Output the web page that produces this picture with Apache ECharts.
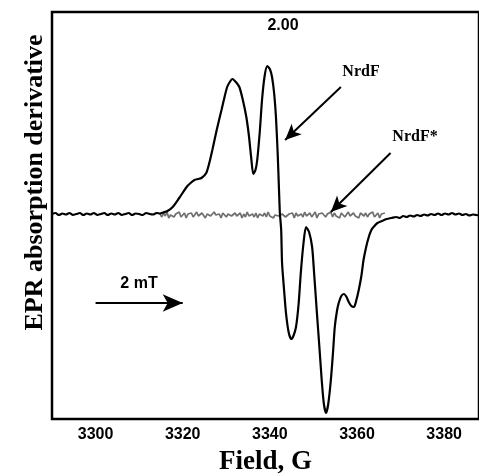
<!DOCTYPE html>
<html>
<head>
<meta charset="utf-8">
<script src="https://cdn.jsdelivr.net/npm/echarts@6/dist/echarts.min.js"></script>
<style>html,body{margin:0;padding:0;background:#fff}#c{width:479px;height:475px}</style>
</head>
<body>
<div id="c"></div>
<script>
// ---- Data ----
const xTickLabels = [3300, 3320, 3340, 3360, 3380];

// NrdF spectrum: field (G) and derivative signal (arb. units)
const nrdfField = [
  3290,3290.8,3291.6,3292.4,3293.2,3294,3294.8,3295.6,3296.4,3297.2,3298,3298.8,3299.6,3300.4,3301.2,3302,3302.8,3303.6,3304.4,3305.2,3306,3306.8,3307.6,3308.4,3309.2,3310,3310.8,3311.6,3312.4,3313.2,3314,3314.8,3315.5,
  3316.5,3317.7,3319.2,3320.9,3321.8,3322.7,3323.5,3324.3,3325.4,3326.1,3326.8,3327.8,3328.9,3329.6,3330.2,3330.8,3331.4,3332.2,3333.0,3333.8,3334.6,3335.2,3335.7,3336.2,3336.7,3337.1,3337.7,3338.2,3338.8,3339.4,3340.0,3340.5,3341.0,3341.4,3341.8,3342.1,3342.3,3342.6,3342.8,3343.3,3343.7,3344.3,3344.9,3345.4,3346.0,3346.6,3347.1,3347.7,3348.3,3349.0,3349.7,3350.2,3350.8,3351.4,3351.9,3352.4,3352.9,3353.4,3354.0,3354.5,3354.9,3355.4,3355.8,3356.4,3357.0,3357.6,3358.1,3358.7,3359.3,3359.8,3360.4,3361.0,3361.5,3362.1,3362.7,3363.3,3363.8,3364.7,3365.7,3366.8,3367.9,
  3369,3369.8,3370.6,3371.4,3372.2,3373,3373.8,3374.6,3375.4,3376.2,3377,3377.8,3378.6,3379.4,3380.2,3381,3381.8,3382.6,3383.4,3384.2,3385,3385.8,3386.6,3387.4,3388
];
const nrdfSignal = [
  0,1,-1,0.5,-0.5,1,-1,0,1,-1,0.5,-0.5,1,-1,0,1,-1,0.5,-0.5,1,-1,0,1,-1,0.5,0,-1,1,0,-0.5,1,0.5,1.5,
  3,7,16,27,31,34,35,36,41,51,64,84,104,117,127,132,135,132,127,114,97,78,57,40,44,54,83,114,138,148,145,137,120,97,60,24,1,-16,-49,-78,-99,-118,-125,-122,-113,-90,-59,-30,-13,-18,-33,-62,-99,-135,-166,-190,-199,-190,-166,-138,-113,-97,-89,-82,-80,-83,-88,-92,-93,-87,-76,-62,-46,-33,-23,-16,-13,-9,-7,-5,-4,
  -3,-4,-2,-3,-1.5,-2.5,-1,-2,-0.5,-1.5,0,-1,0.5,-1,0.5,-0.5,1,-0.5,0.5,-1,0,-1.5,-0.5,-1,-1.5
];

// NrdF* spectrum (noise only): sweep start/step and signal values
const nrdfStarStart = 3314.8;
const nrdfStarStep = 0.4;
const nrdfStarSignal = [
  1,-2,2,-1,3,-3,0,2,-2,1,-1,3,-2,0,2,-3,1,-1,2,-2,
  0,3,-1,-2,2,0,-3,1,2,-1,-2,3,0,-1,1,-3,2,0,-2,1,
  3,-1,-2,2,-1,0,2,-3,1,-2,3,-1,0,1,-2,2,-3,1,0,-1,
  2,-2,3,-1,1,-3,0,2,-1,-2,1,3,-2,0,1,-1,2,-3,2,-1,
  0,1,-2,3,-1,-1,2,-2,0,3,-3,1,-1,2,0,-2,1,-1,3,-2,
  2,-1,0,-3,2,1,-2,0,3,-1,-2,2,-1,1,-3,2,0,-1,2,-2,
  1,-1,3,-2,0,2,-3,1,-1,2
];

// Annotation arrows in data coordinates [field, signal]
const arrowNrdF = [[3356.3, 127], [3343.5, 74]];
const arrowNrdFStar = [[3367.7, 61], [3354.0, 2]];
const arrowScale = [[3300, -89], [3320, -89]];

// ---- Build ----
const nrdfData = nrdfField.map((f, i) => [f, nrdfSignal[i]]);
const starData = nrdfStarSignal.map((v, i) => [nrdfStarStart + i * nrdfStarStep, v - 1]);

function arrow(pts, size) {
  return [
    { coord: pts[0], symbol: 'none' },
    { coord: pts[1], symbol: 'arrow', symbolSize: size }
  ];
}

const chart = echarts.init(document.getElementById('c'), null, { renderer: 'canvas' });
chart.setOption({
  animation: false,
  backgroundColor: '#fff',
  grid: { left: 52, top: 12, right: -2, bottom: 56, show: true, borderColor: '#000', borderWidth: 2.5 },
  xAxis: {
    type: 'value', min: 3290, max: 3388, interval: 10,
    axisLine: { show: false }, axisTick: { show: false }, splitLine: { show: false },
    axisLabel: {
      margin: 8, fontSize: 16, fontWeight: 'bold', color: '#000', fontFamily: 'Liberation Sans, Arial',
      showMinLabel: true, showMaxLabel: false,
      formatter: v => (xTickLabels.indexOf(Math.round(v)) >= 0 ? String(Math.round(v)) : '')
    }
  },
  yAxis: {
    type: 'value', min: -205, max: 202,
    axisLine: { show: false }, axisTick: { show: false }, splitLine: { show: false }, axisLabel: { show: false }
  },
  series: [
    {
      name: 'NrdF*', type: 'line', data: starData, showSymbol: false,
      lineStyle: { color: '#6f6f6f', width: 1.7 }, z: 2
    },
    {
      name: 'NrdF', type: 'line', data: nrdfData, showSymbol: false, smooth: 0.25,
      lineStyle: { color: '#000', width: 2.2 }, z: 3,
      markLine: {
        silent: true, animation: false,
        lineStyle: { color: '#000', width: 2, type: 'solid' },
        label: { show: false },
        data: [arrow(arrowNrdF, [11, 16]), arrow(arrowNrdFStar, [11, 16]), arrow(arrowScale, [13, 20])]
      }
    }
  ],
  graphic: [
    { type: 'text', x: 283, y: 26, style: { text: '2.00', fill: '#000', font: 'bold 16px "Liberation Sans", Arial', align: 'center', verticalAlign: 'middle' } },
    { type: 'text', x: 361, y: 72, style: { text: 'NrdF', fill: '#000', font: 'bold 16px "Liberation Serif", "Times New Roman"', align: 'center', verticalAlign: 'middle' } },
    { type: 'text', x: 415, y: 137, style: { text: 'NrdF*', fill: '#000', font: 'bold 16px "Liberation Serif", "Times New Roman"', align: 'center', verticalAlign: 'middle' } },
    { type: 'text', x: 139, y: 284, style: { text: '2 mT', fill: '#000', font: 'bold 16px "Liberation Sans", Arial', align: 'center', verticalAlign: 'middle' } },
    { type: 'text', x: 265.5, y: 462, style: { text: 'Field, G', fill: '#000', font: 'bold 27px "Liberation Serif", "Times New Roman"', align: 'center', verticalAlign: 'middle' } },
    { type: 'text', x: 35, y: 182.5, rotation: Math.PI / 2, style: { text: 'EPR absorption derivative', fill: '#000', font: 'bold 26px "Liberation Serif", "Times New Roman"', align: 'center', verticalAlign: 'middle' } }
  ]
});
</script>
</body>
</html>
